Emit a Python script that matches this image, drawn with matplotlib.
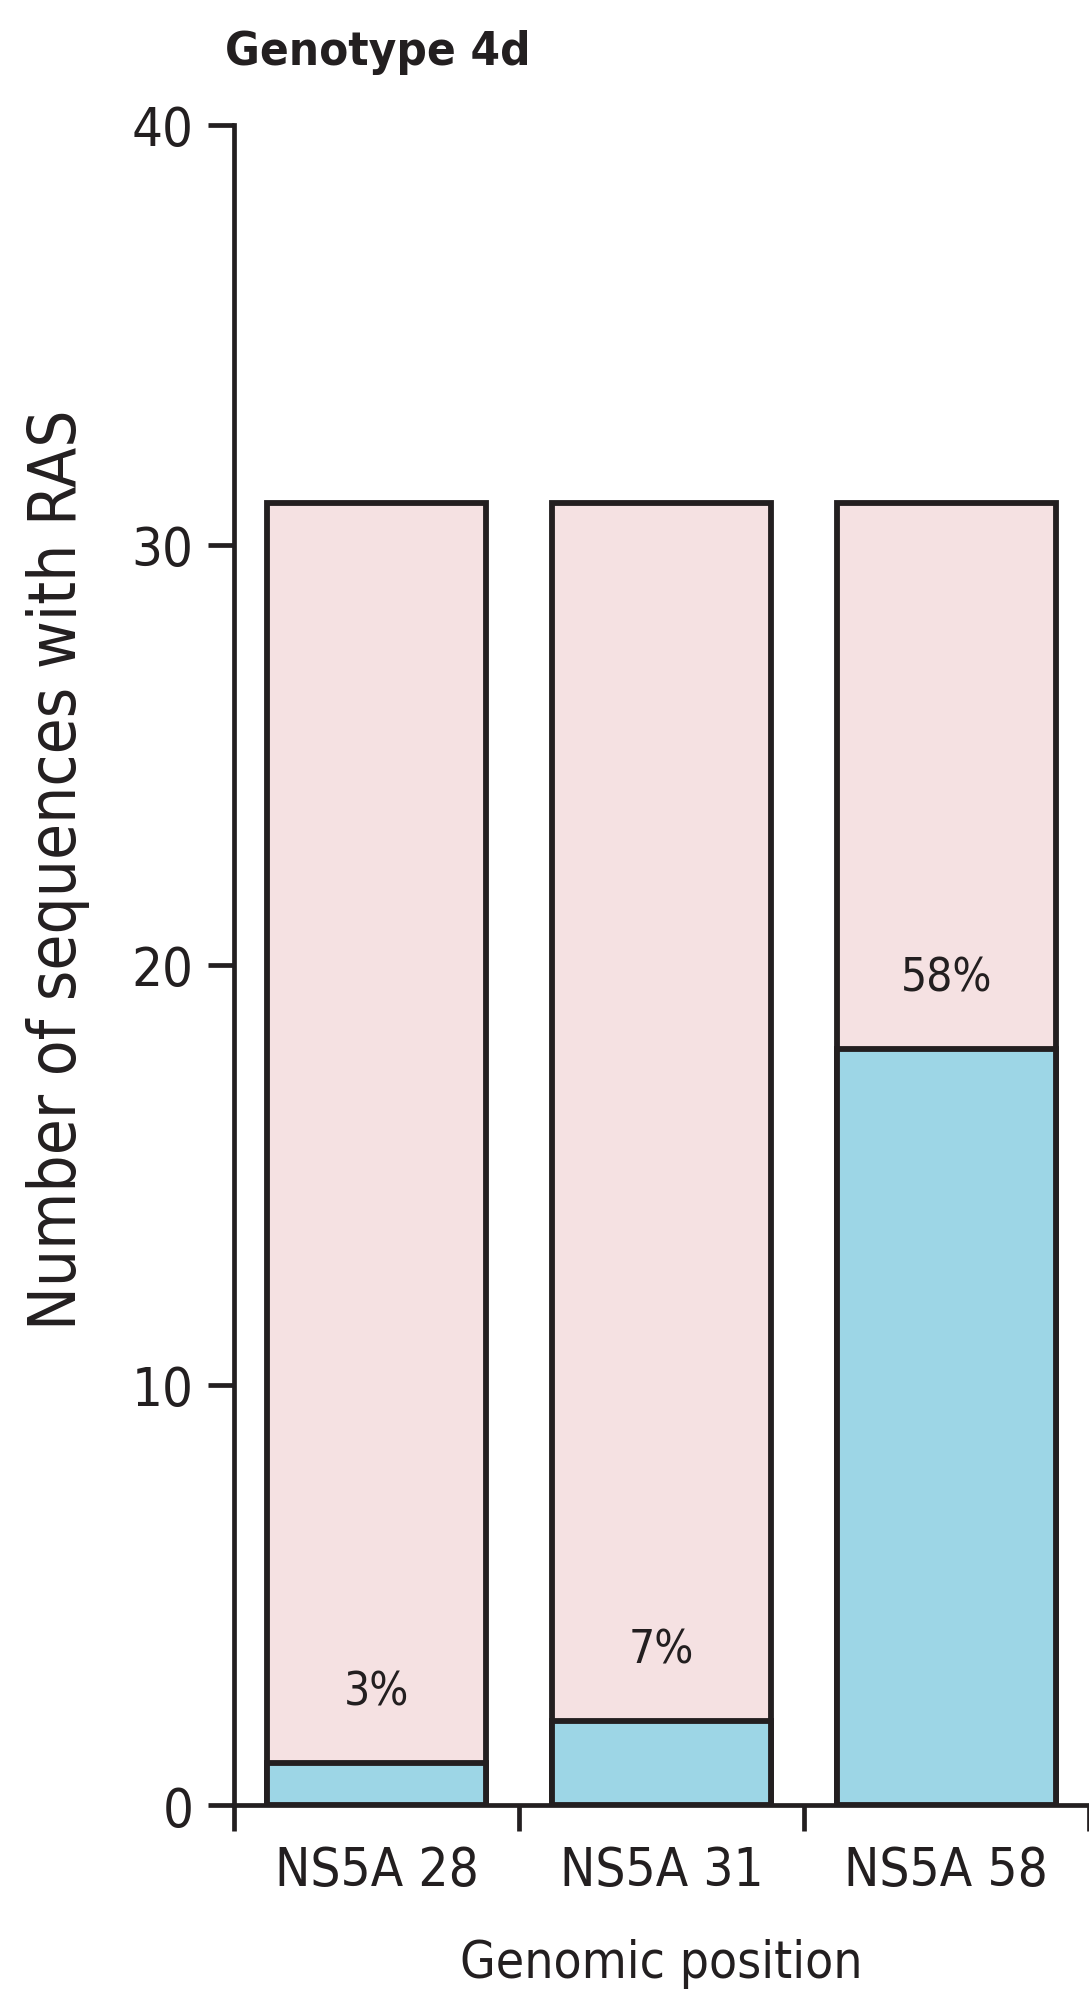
import matplotlib
matplotlib.use('Agg')
import matplotlib.pyplot as plt
import numpy as np

# data
positions = ['NS5A 28', 'NS5A 31', 'NS5A 58']
total = [31, 31, 31]
with_ras = [1, 2, 18]
pct_labels = ['3%', '7%', '58%']

pink = '#f5e1e2'
blue = '#9dd6e6'
ink = '#231f20'

plt.rcParams['font.family'] = ['DejaVu Sans']
plt.rcParams['font.stretch'] = 'condensed'

fig = plt.figure(figsize=(10.89, 20.06), dpi=100)
ax = fig.add_axes([0.2149, 0.0997, 0.785, 0.8375])

x = np.arange(len(positions))
ax.bar(x, total, width=0.77, color=pink, edgecolor=ink, linewidth=4.2, zorder=2)
ax.bar(x, with_ras, width=0.77, color=blue, edgecolor=ink, linewidth=4.2, zorder=3)

for xi, v, lab in zip(x, with_ras, pct_labels):
    ax.annotate(lab, (xi, v), xytext=(0, 51), textcoords='offset points',
                ha='center', va='center', fontsize=33, color=ink)

ax.set_xlim(-0.5, 2.5)
ax.set_ylim(0, 40)
ax.set_yticks([0, 10, 20, 30, 40])
ax.set_xticks(x)
ax.set_xticklabels(positions)
ax.set_xticks([-0.5, 0.5, 1.5, 2.5], minor=True)

for s in ['top', 'right']:
    ax.spines[s].set_visible(False)
for s in ['left', 'bottom']:
    ax.spines[s].set_linewidth(3.4)
    ax.spines[s].set_color(ink)
    ax.spines[s].set_zorder(5)

ax.tick_params(axis='y', length=19, width=3.4, color=ink, labelsize=39, pad=10, labelcolor=ink)
ax.tick_params(axis='x', which='major', length=0, labelsize=38, pad=28, labelcolor=ink)
ax.tick_params(axis='x', which='minor', length=19, width=3.4, color=ink)

ax.set_ylabel('Number of sequences with RAS', fontsize=47, color=ink)
ax.yaxis.set_label_coords(-0.168, 0.557)
ax.set_xlabel('Genomic position', fontsize=37, color=ink, labelpad=30)

fig.text(0.207, 0.974, 'Genotype 4d', fontsize=34, fontweight='bold', color=ink,
         ha='left', va='center')

fig.savefig('out.png', dpi=100, facecolor='white')
